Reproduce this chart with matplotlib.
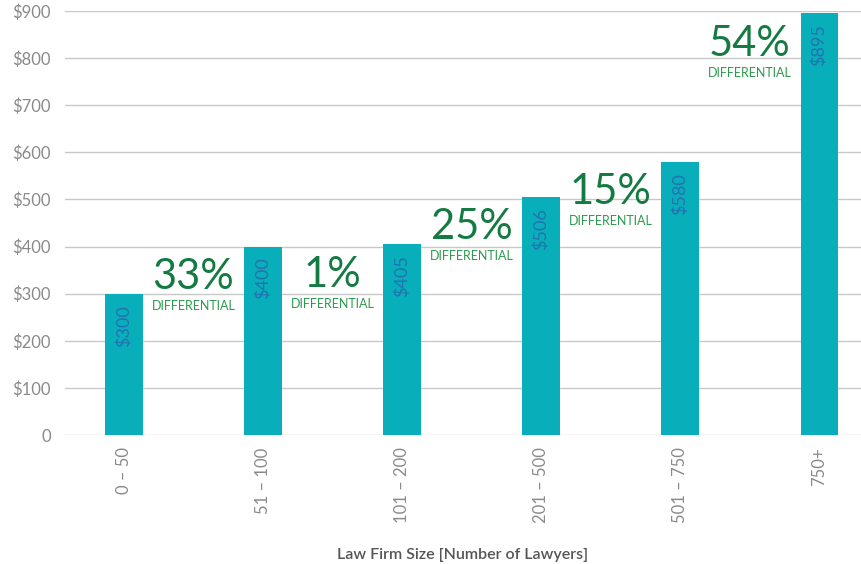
import matplotlib.pyplot as plt
import numpy as np

# data
firm_sizes = ["0 – 50", "51 – 100", "101 – 200", "201 – 500", "501 – 750", "750+"]
rates = [300, 400, 405, 506, 580, 895]
differentials = ["33%", "1%", "25%", "15%", "54%"]
y_ticks = [0, 100, 200, 300, 400, 500, 600, 700, 800, 900]
y_tick_labels = ["0"] + ["$%d" % v for v in y_ticks[1:]]

plt.rcParams['font.family'] = ['Lato', 'DejaVu Sans']

fig = plt.figure(figsize=(8.61, 5.64), dpi=100)
ax = fig.add_axes([65 / 861, 1 - 435 / 564, 796 / 861, 424 / 564])

x = np.arange(len(firm_sizes))
ax.bar(x, rates, width=0.27, color="#08aeb9", zorder=3)

# value labels inside bars
for xi, v in zip(x, rates):
    ax.annotate("$%d" % v, (xi, v), xytext=(0, -8), textcoords="offset points",
                rotation=90, ha="center", va="top", fontsize=13,
                color="#2172b0", zorder=4)

# differential callouts between bars
for i, d in enumerate(differentials):
    ax.annotate(d, (x[i] + 0.5, rates[i + 1]), xytext=(0, -22),
                textcoords="offset points", ha="center", va="center",
                fontsize=30, color="#137a42")
    ax.annotate("DIFFERENTIAL", (x[i] + 0.5, rates[i + 1]), xytext=(0, -43),
                textcoords="offset points", ha="center", va="center",
                fontsize=9, color="#2b9a4c")

ax.set_xlim(-0.424, 5.30)
ax.set_ylim(0, 900)
ax.set_yticks(y_ticks)
ax.set_yticklabels(y_tick_labels)
ax.set_xticks(x)
ax.set_xticklabels(firm_sizes, rotation=90)
ax.tick_params(axis="both", length=0, labelsize=12, labelcolor="#8a8a8a")
ax.tick_params(axis="x", pad=9)
ax.tick_params(axis="y", pad=10)
ax.grid(axis="y", color="#c8c8c8", linewidth=1, zorder=0)
for s in ax.spines.values():
    s.set_visible(False)

ax.set_xlabel("Law Firm Size [Number of Lawyers]", fontsize=11.5,
              fontweight="semibold", color="#555555", labelpad=18)

fig.savefig("out.png", dpi=100)
